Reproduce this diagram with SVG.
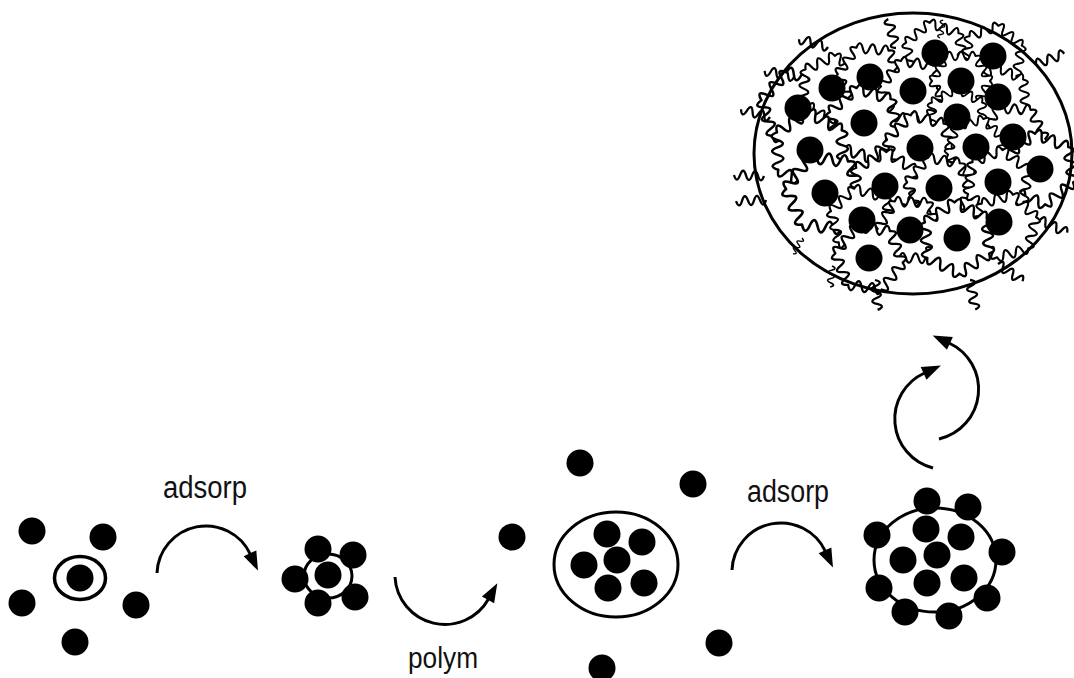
<svg xmlns="http://www.w3.org/2000/svg" xmlns:xlink="http://www.w3.org/1999/xlink" width="1074" height="678" viewBox="0 0 1074 678">
  <style>
    .dot { fill: #000; }
    .ring { fill: none; stroke: #000; stroke-width: 3; }
    .arc { fill: none; stroke: #000; stroke-width: 3; marker-end: url(#head); }
    .cell { fill: #fff; stroke: #000; stroke-width: 2.3; stroke-linejoin: round; }
    .tail { fill: none; stroke: #000; stroke-width: 2.3; stroke-linejoin: round; }
    .label { font-family: "Liberation Sans", Arial, sans-serif; font-size: 31px; fill: #111; }
  </style>
  <defs>
    <marker id="head" markerUnits="userSpaceOnUse" markerWidth="20" markerHeight="14" refX="1" refY="7" orient="auto" overflow="visible">
      <path d="M0 0 L19 7 L0 14 z" fill="#000"/>
    </marker>
    <!-- hexagonal shell with wavy (polymer chain) edges, vertex radius 34 -->
    <path id="shell" d="M34 0
      q6.96 7.9445 -3.4 5.889 t-3.4 5.889 t-3.4 5.889 t-3.4 5.889 t-3.4 5.889
      q-3.4 10 -6.8 0 t-6.8 0 t-6.8 0 t-6.8 0 t-6.8 0
      q-10.36 2.0555 -3.4 -5.889 t-3.4 -5.889 t-3.4 -5.889 t-3.4 -5.889 t-3.4 -5.889
      q-6.96 -7.9445 3.4 -5.889 t3.4 -5.889 t3.4 -5.889 t3.4 -5.889 t3.4 -5.889
      q3.4 -10 6.8 0 t6.8 0 t6.8 0 t6.8 0 t6.8 0
      q10.36 -2.0555 3.4 5.889 t3.4 5.889 t3.4 5.889 t3.4 5.889 t3.4 5.889 z"/>
    <!-- loose chain end -->
    <path id="chain" d="M0 0 q3 -9 6 0 t6 0 t6 0 t6 0 t6 0"/>
  </defs>

  <!-- stage 1: seed with free particles -->
  <g id="stage1">
    <circle class="dot" cx="32" cy="531" r="13.5"/>
    <circle class="dot" cx="103" cy="537" r="13.5"/>
    <circle class="dot" cx="22" cy="603" r="13.5"/>
    <circle class="dot" cx="136" cy="605" r="13.5"/>
    <circle class="dot" cx="75" cy="642" r="13.5"/>
    <ellipse class="ring" cx="80" cy="578" rx="25.5" ry="21.5" style="stroke-width:3.5"/>
    <circle class="dot" cx="80" cy="578" r="13.5"/>
  </g>

  <!-- stage 2: particles adsorbed on the seed -->
  <g id="stage2">
    <ellipse class="ring" cx="328" cy="576" rx="24" ry="22"/>
    <circle class="dot" cx="328" cy="575" r="13.5"/>
    <circle class="dot" cx="318" cy="549" r="13.5"/>
    <circle class="dot" cx="353" cy="555" r="13.5"/>
    <circle class="dot" cx="295" cy="579" r="13.5"/>
    <circle class="dot" cx="318" cy="603" r="13.5"/>
    <circle class="dot" cx="355" cy="597" r="13.5"/>
  </g>

  <!-- stage 3: particles enclosed after polymerisation -->
  <g id="stage3">
    <circle class="dot" cx="580" cy="463" r="13.5"/>
    <circle class="dot" cx="693" cy="484" r="13.5"/>
    <circle class="dot" cx="512" cy="537" r="13.5"/>
    <circle class="dot" cx="719" cy="643" r="13.5"/>
    <circle class="dot" cx="602" cy="668" r="13.5"/>
    <ellipse class="ring" cx="616" cy="564.5" rx="62" ry="52.5"/>
    <circle class="dot" cx="607" cy="534" r="13.5"/>
    <circle class="dot" cx="642" cy="542" r="13.5"/>
    <circle class="dot" cx="584" cy="565" r="13.5"/>
    <circle class="dot" cx="617" cy="560" r="13.5"/>
    <circle class="dot" cx="608" cy="588" r="13.5"/>
    <circle class="dot" cx="644" cy="583" r="13.5"/>
  </g>

  <!-- stage 4: second adsorption layer -->
  <g id="stage4">
    <ellipse class="ring" cx="935" cy="560" rx="61" ry="52"/>
    <circle class="dot" cx="926" cy="529" r="13.5"/>
    <circle class="dot" cx="961" cy="537" r="13.5"/>
    <circle class="dot" cx="903" cy="560" r="13.5"/>
    <circle class="dot" cx="937" cy="555" r="13.5"/>
    <circle class="dot" cx="927" cy="583" r="13.5"/>
    <circle class="dot" cx="964" cy="578" r="13.5"/>
    <circle class="dot" cx="927" cy="501" r="13.5"/>
    <circle class="dot" cx="968" cy="507" r="13.5"/>
    <circle class="dot" cx="877" cy="535" r="13.5"/>
    <circle class="dot" cx="1002" cy="552" r="13.5"/>
    <circle class="dot" cx="879" cy="588" r="13.5"/>
    <circle class="dot" cx="987" cy="598" r="13.5"/>
    <circle class="dot" cx="905" cy="612" r="13.5"/>
    <circle class="dot" cx="949" cy="616" r="13.5"/>
  </g>

  <!-- stage 5: composite particle, every core wrapped in a polymer shell -->
  <g id="stage5">
    <g id="shells">
      <use xlink:href="#shell" class="cell" transform="translate(798 108) rotate(12) scale(1.1)"/>
      <use xlink:href="#shell" class="cell" transform="translate(832 88) rotate(35) scale(0.95)"/>
      <use xlink:href="#shell" class="cell" transform="translate(870 77) rotate(5) scale(0.95)"/>
      <use xlink:href="#shell" class="cell" transform="translate(935 53) rotate(20) scale(0.9)"/>
      <use xlink:href="#shell" class="cell" transform="translate(993 56) rotate(40) scale(0.9)"/>
      <use xlink:href="#shell" class="cell" transform="translate(913 91) rotate(8) scale(0.95)"/>
      <use xlink:href="#shell" class="cell" transform="translate(998 97) rotate(25) scale(0.9)"/>
      <use xlink:href="#shell" class="cell" transform="translate(961 81) rotate(0) scale(0.85)"/>
      <use xlink:href="#shell" class="cell" transform="translate(864 123) rotate(18) scale(1.05)"/>
      <use xlink:href="#shell" class="cell" transform="translate(1013 137) rotate(3) scale(0.95)"/>
      <use xlink:href="#shell" class="cell" transform="translate(957 117) rotate(30) scale(0.85)"/>
      <use xlink:href="#shell" class="cell" transform="translate(810 150) rotate(28) scale(1.1)"/>
      <use xlink:href="#shell" class="cell" transform="translate(920 148) rotate(14) scale(1.0)"/>
      <use xlink:href="#shell" class="cell" transform="translate(976 147) rotate(45) scale(0.85)"/>
      <use xlink:href="#shell" class="cell" transform="translate(1040 169) rotate(22) scale(1.05)"/>
      <use xlink:href="#shell" class="cell" transform="translate(825 193) rotate(6) scale(1.15)"/>
      <use xlink:href="#shell" class="cell" transform="translate(885 186) rotate(32) scale(1.0)"/>
      <use xlink:href="#shell" class="cell" transform="translate(939 188) rotate(10) scale(0.95)"/>
      <use xlink:href="#shell" class="cell" transform="translate(998 182) rotate(38) scale(0.95)"/>
      <use xlink:href="#shell" class="cell" transform="translate(862 220) rotate(16) scale(0.95)"/>
      <use xlink:href="#shell" class="cell" transform="translate(910 230) rotate(2) scale(0.95)"/>
      <use xlink:href="#shell" class="cell" transform="translate(1005 226) rotate(44) scale(0.95)"/>
      <use xlink:href="#shell" class="cell" transform="translate(957 238) rotate(26) scale(1.05)"/>
      <use xlink:href="#shell" class="cell" transform="translate(869 258) rotate(8) scale(1.0)"/>
    </g>
    <g id="cores">
      <circle class="dot" cx="935" cy="53" r="13.5"/>
      <circle class="dot" cx="993" cy="56" r="13.5"/>
      <circle class="dot" cx="870" cy="77" r="13.5"/>
      <circle class="dot" cx="832" cy="88" r="13.5"/>
      <circle class="dot" cx="913" cy="91" r="13.5"/>
      <circle class="dot" cx="961" cy="81" r="13.5"/>
      <circle class="dot" cx="998" cy="97" r="13.5"/>
      <circle class="dot" cx="798" cy="108" r="13.5"/>
      <circle class="dot" cx="864" cy="123" r="13.5"/>
      <circle class="dot" cx="957" cy="117" r="13.5"/>
      <circle class="dot" cx="1013" cy="137" r="13.5"/>
      <circle class="dot" cx="810" cy="150" r="13.5"/>
      <circle class="dot" cx="920" cy="148" r="13.5"/>
      <circle class="dot" cx="976" cy="147" r="13.5"/>
      <circle class="dot" cx="1040" cy="169" r="13.5"/>
      <circle class="dot" cx="825" cy="193" r="13.5"/>
      <circle class="dot" cx="885" cy="186" r="13.5"/>
      <circle class="dot" cx="939" cy="188" r="13.5"/>
      <circle class="dot" cx="998" cy="182" r="13.5"/>
      <circle class="dot" cx="862" cy="220" r="13.5"/>
      <circle class="dot" cx="910" cy="230" r="13.5"/>
      <circle class="dot" cx="957" cy="238" r="13.5"/>
      <circle class="dot" cx="999" cy="222" r="13.5"/>
      <circle class="dot" cx="869" cy="258" r="13.5"/>
    </g>
    <ellipse class="ring" cx="913" cy="153.5" rx="159" ry="140.5"/>
    <g id="chain-ends">
      <use xlink:href="#chain" class="tail" transform="translate(896 48) rotate(-105)"/>
      <use xlink:href="#chain" class="tail" transform="translate(940 38) rotate(-80) scale(0.6)"/>
      <use xlink:href="#chain" class="tail" transform="translate(1036 64) rotate(-20)"/>
      <use xlink:href="#chain" class="tail" transform="translate(770 117) rotate(195)"/>
      <use xlink:href="#chain" class="tail" transform="translate(764 176) rotate(182)"/>
      <use xlink:href="#chain" class="tail" transform="translate(766 200) rotate(178)"/>
      <use xlink:href="#chain" class="tail" transform="translate(828 47) rotate(195)"/>
      <use xlink:href="#chain" class="tail" transform="translate(794 77) rotate(192)"/>
      <use xlink:href="#chain" class="tail" transform="translate(802 238) rotate(120) scale(0.6)"/>
      <use xlink:href="#chain" class="tail" transform="translate(832 266) rotate(95) scale(0.7)"/>
      <use xlink:href="#chain" class="tail" transform="translate(875 280) rotate(85)"/>
      <use xlink:href="#chain" class="tail" transform="translate(970 280) rotate(80)"/>
      <use xlink:href="#chain" class="tail" transform="translate(998 264) rotate(35)"/>
      <use xlink:href="#chain" class="tail" transform="translate(1040 220) rotate(25)"/>
    </g>
  </g>

  <!-- process arrows -->
  <g id="connectors">
    <path class="arc" d="M157 573 A49 49 0 0 1 250.4 554.3"/>
    <path class="arc" d="M395 577 A50 50 0 0 0 488.5 599"/>
    <path class="arc" d="M732 570 A49 49 0 0 1 825.4 551.3"/>
    <path class="arc" d="M933 468 A50.5 50.5 0 0 1 924.5 373"/>
    <path class="arc" d="M939 439 A51 51 0 0 0 949 343"/>
  </g>

  <g id="labels">
    <text class="label" x="163" y="498" textLength="84" lengthAdjust="spacingAndGlyphs">adsorp</text>
    <text class="label" x="408" y="668" textLength="70" lengthAdjust="spacingAndGlyphs" style="font-size:29px">polym</text>
    <text class="label" x="747" y="502" textLength="82" lengthAdjust="spacingAndGlyphs">adsorp</text>
  </g>
</svg>
